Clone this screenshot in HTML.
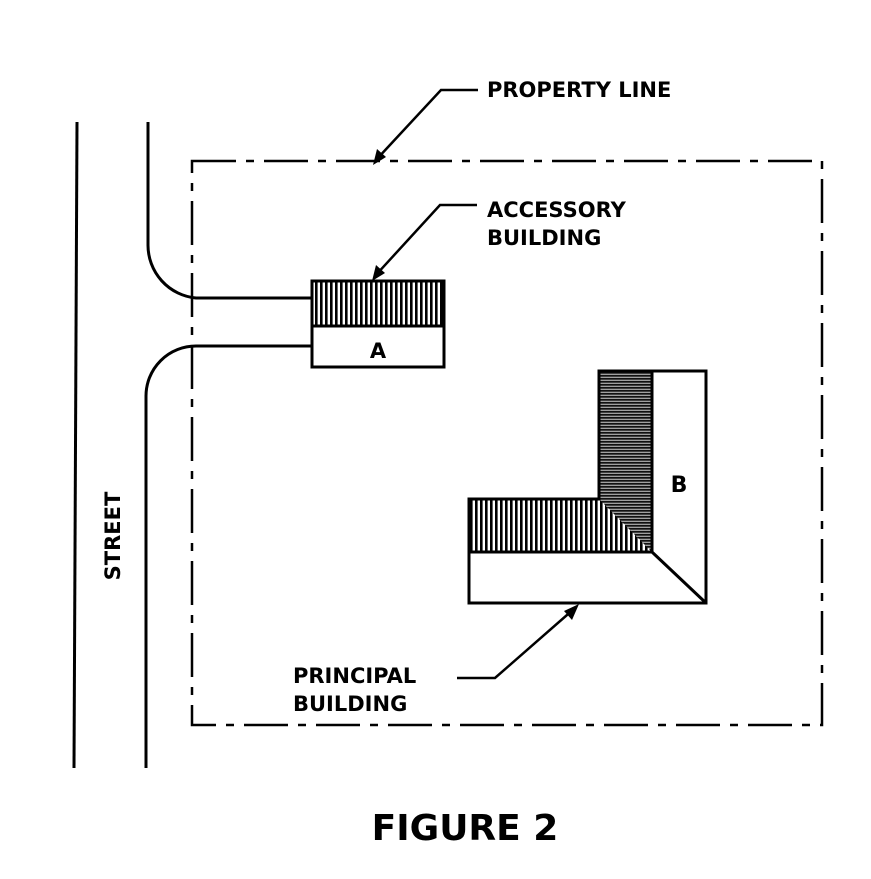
<!DOCTYPE html>
<html><head><meta charset="utf-8"><style>
html,body{margin:0;padding:0;background:#fff;}
svg{display:block;}
text{font-family:"DejaVu Sans","Liberation Sans",sans-serif;font-weight:bold;fill:#000;}
</style></head><body>
<svg width="871" height="879" viewBox="0 0 871 879" xmlns="http://www.w3.org/2000/svg">
<defs>
<pattern id="vh" width="5" height="10" patternUnits="userSpaceOnUse">
<rect width="5" height="10" fill="#fff"/><rect width="2.6" height="10" fill="#000"/>
</pattern>
<pattern id="hh" width="10" height="3" patternUnits="userSpaceOnUse">
<rect width="10" height="3" fill="#111"/><rect y="1.8" width="10" height="0.8" fill="#fff"/>
</pattern>
</defs>
<!-- street -->
<line x1="77" y1="122" x2="74" y2="768" stroke="#000" stroke-width="3"/>
<path d="M148 122 V245 A53 53 0 0 0 196 298 H312" fill="none" stroke="#000" stroke-width="3"/>
<path d="M312 346 H196 A50 50 0 0 0 146 396 V768" fill="none" stroke="#000" stroke-width="3"/>
<!-- property line -->
<rect x="192" y="161" width="630" height="564" fill="none" stroke="#000" stroke-width="2.5" stroke-dasharray="44,10,8,10"/>
<!-- accessory -->
<rect x="312" y="281" width="132" height="45" fill="url(#vh)"/>
<rect x="312" y="281" width="132" height="86" fill="none" stroke="#000" stroke-width="3"/>
<line x1="312" y1="326" x2="444" y2="326" stroke="#000" stroke-width="3"/>
<text x="378" y="358" font-size="21" text-anchor="middle">A</text>
<!-- principal -->
<polygon points="599,371 652,371 652,552" fill="url(#hh)"/>
<polygon points="599,371 652,552 599,499" fill="url(#hh)"/>
<polygon points="469,499 599,499 652,552 469,552" fill="url(#vh)"/>
<polygon points="599,499 652,552 599,552" fill="url(#vh)"/>
<polygon points="599,371 652,371 652,552 610,510 599,499" fill="url(#hh)"/>
<path d="M599 499 V371 H706 V603 H469 V499 Z" fill="none" stroke="#000" stroke-width="3"/>
<line x1="652" y1="371" x2="652" y2="552" stroke="#000" stroke-width="3"/>
<line x1="469" y1="552" x2="652" y2="552" stroke="#000" stroke-width="3"/>
<line x1="652" y1="552" x2="706" y2="603" stroke="#000" stroke-width="3"/>
<text x="679" y="492" font-size="22" text-anchor="middle">B</text>
<!-- leaders -->
<g stroke="#000" stroke-width="2.5" fill="none">
<path d="M478 90 H441 L376 160"/>
<path d="M477 205 H440 L375 276"/>
<path d="M457 678 H495 L575 608"/>
</g>
<polygon points="373,165 377,149 386,157" fill="#000"/>
<polygon points="372,281 376,265 385,273" fill="#000"/>
<polygon points="579,604 564,611 572,620" fill="#000"/>
<!-- labels -->
<text x="487" y="97" font-size="21">PROPERTY LINE</text>
<text x="487" y="217" font-size="21">ACCESSORY</text>
<text x="487" y="245" font-size="21">BUILDING</text>
<text x="293" y="683" font-size="21">PRINCIPAL</text>
<text x="293" y="711" font-size="21">BUILDING</text>
<text transform="translate(120,536) rotate(-90)" font-size="21" text-anchor="middle">STREET</text>
<text x="465" y="840" font-size="36" text-anchor="middle">FIGURE 2</text>
</svg>
</body></html>
